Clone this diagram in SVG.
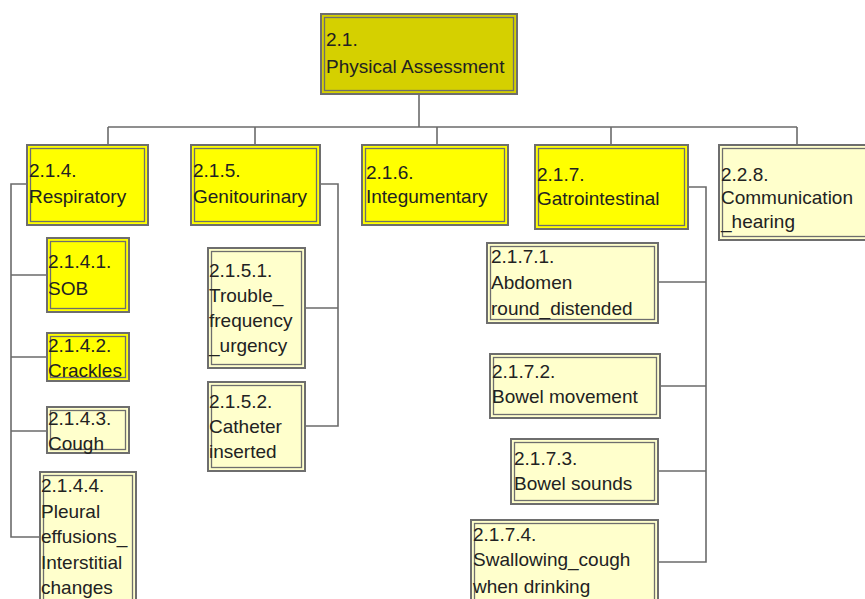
<svg xmlns="http://www.w3.org/2000/svg" width="865" height="599" viewBox="0 0 865 599">
<style>
.o{stroke:#6e6e6e;stroke-width:2}
.i{fill:none;stroke:#6e6e6e;stroke-width:1.3}
.r{fill:#d5d000}
.y{fill:#ffff00}
.l{fill:#ffffcc}
text{font-family:"Liberation Sans",Arial,sans-serif;font-size:19px;fill:#222222}
.c{fill:none;stroke:#6b6b6b;stroke-width:1.6}
</style>
<rect width="865" height="599" fill="#ffffff"/>
<g id="connectors">
<path class="c" d="M419,95V127M108,127H797M108,127V144M255,127V144M437,127V144M611,127V144M797,127V144"/>
<path class="c" d="M26,184H11V537H39M11,275H46M11,357H46M11,431H46"/>
<path class="c" d="M321,184H338V426H306M338,308H305"/>
<path class="c" d="M689,187H706V562H659M706,282H659M706,386H661M706,471H659"/>
</g>
<g id="n2_1">
<rect class="o r" x="321" y="14" width="196" height="80"/>
<rect class="i" x="324.5" y="17.5" width="189" height="73"/>
<text x="326" y="46">2.1.</text><text x="326" y="73">Physical Assessment</text>
</g>
<g id="n2_1_4">
<rect class="o y" x="27" y="145" width="121" height="80"/>
<rect class="i" x="30.5" y="148.5" width="114" height="73"/>
<text x="29" y="177">2.1.4.</text><text x="29" y="203">Respiratory</text>
</g>
<g id="n2_1_5">
<rect class="o y" x="191" y="145" width="129" height="80"/>
<rect class="i" x="194.5" y="148.5" width="122" height="73"/>
<text x="193" y="177">2.1.5.</text><text x="193" y="203">Genitourinary</text>
</g>
<g id="n2_1_6">
<rect class="o y" x="362" y="145" width="146" height="80"/>
<rect class="i" x="365.5" y="148.5" width="139" height="73"/>
<text x="366" y="179">2.1.6.</text><text x="366" y="203">Integumentary</text>
</g>
<g id="n2_1_7">
<rect class="o y" x="535" y="145" width="153" height="84"/>
<rect class="i" x="538.5" y="148.5" width="146" height="77"/>
<text x="537" y="181">2.1.7.</text><text x="537" y="205">Gatrointestinal</text>
</g>
<g id="n2_2_8">
<rect class="o l" x="719" y="145" width="160" height="95"/>
<rect class="i" x="722.5" y="148.5" width="153" height="88"/>
<text x="721" y="181">2.2.8.</text><text x="721" y="204">Communication</text><text x="721" y="228">_hearing</text>
</g>
<g id="n2_1_4_1">
<rect class="o y" x="47" y="238" width="82" height="74"/>
<rect class="i" x="50.5" y="241.5" width="75" height="67"/>
<text x="48" y="268">2.1.4.1.</text><text x="48" y="295">SOB</text>
</g>
<g id="n2_1_4_2">
<rect class="o y" x="47" y="333" width="82" height="48"/>
<rect class="i" x="50.5" y="336.5" width="75" height="41"/>
<text x="48" y="352">2.1.4.2.</text><text x="48" y="377">Crackles</text>
</g>
<g id="n2_1_4_3">
<rect class="o l" x="47" y="407" width="82" height="46"/>
<rect class="i" x="50.5" y="410.5" width="75" height="39"/>
<text x="48" y="425">2.1.4.3.</text><text x="48" y="450">Cough</text>
</g>
<g id="n2_1_4_4">
<rect class="o l" x="40" y="472" width="96" height="140"/>
<rect class="i" x="43.5" y="475.5" width="89" height="133"/>
<text x="41" y="492">2.1.4.4.</text><text x="41" y="518">Pleural</text><text x="41" y="543">effusions_</text><text x="41" y="569">Interstitial</text><text x="41" y="594">changes</text>
</g>
<g id="n2_1_5_1">
<rect class="o l" x="208" y="248" width="97" height="120"/>
<rect class="i" x="211.5" y="251.5" width="90" height="113"/>
<text x="209" y="277">2.1.5.1.</text><text x="209" y="302">Trouble_</text><text x="209" y="327">frequency</text><text x="209" y="352">_urgency</text>
</g>
<g id="n2_1_5_2">
<rect class="o l" x="208" y="382" width="97" height="89"/>
<rect class="i" x="211.5" y="385.5" width="90" height="82"/>
<text x="209" y="408">2.1.5.2.</text><text x="209" y="433">Catheter</text><text x="209" y="458">inserted</text>
</g>
<g id="n2_1_7_1">
<rect class="o l" x="487" y="243" width="171" height="80"/>
<rect class="i" x="490.5" y="246.5" width="164" height="73"/>
<text x="491" y="263">2.1.7.1.</text><text x="491" y="289">Abdomen</text><text x="491" y="315">round_distended</text>
</g>
<g id="n2_1_7_2">
<rect class="o l" x="490" y="354" width="170" height="64"/>
<rect class="i" x="493.5" y="357.5" width="163" height="57"/>
<text x="492" y="378">2.1.7.2.</text><text x="492" y="403">Bowel movement</text>
</g>
<g id="n2_1_7_3">
<rect class="o l" x="511" y="439" width="147" height="65"/>
<rect class="i" x="514.5" y="442.5" width="140" height="58"/>
<text x="514" y="465">2.1.7.3.</text><text x="514" y="490">Bowel sounds</text>
</g>
<g id="n2_1_7_4">
<rect class="o l" x="471" y="520" width="187" height="95"/>
<rect class="i" x="474.5" y="523.5" width="180" height="88"/>
<text x="473" y="541">2.1.7.4.</text><text x="473" y="566">Swallowing_cough</text><text x="473" y="593">when drinking</text>
</g>
</svg>
